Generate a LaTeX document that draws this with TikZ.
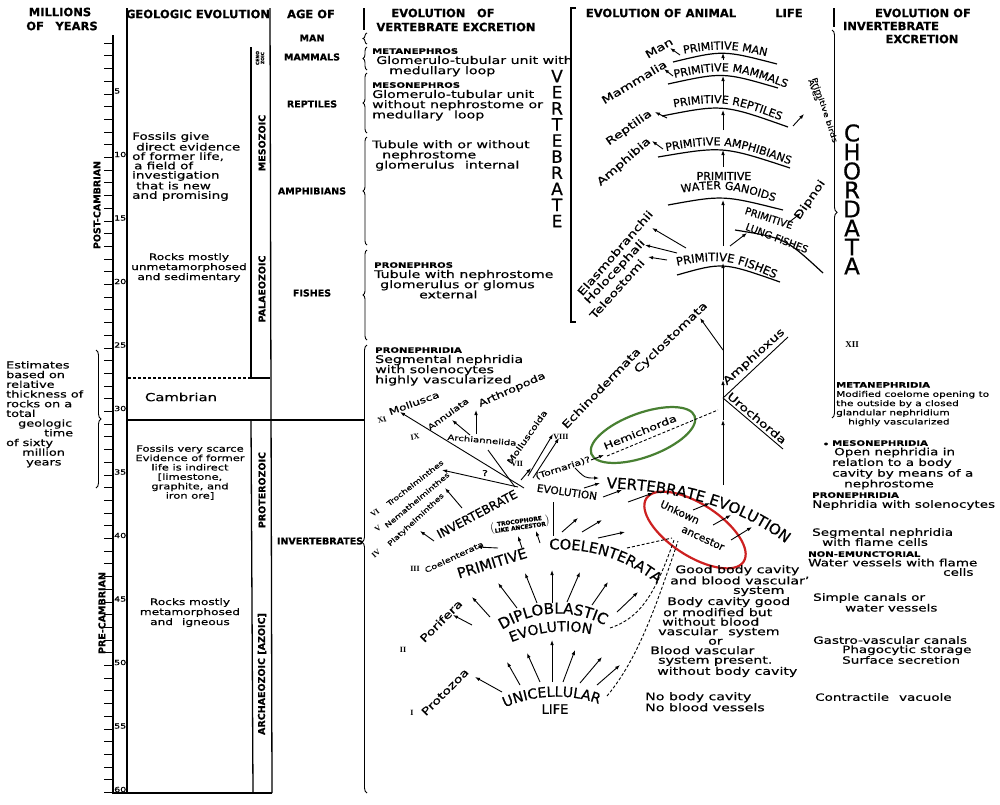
\documentclass[tikz,border=0pt]{standalone}
\usepackage{fontspec}
\setmainfont{DejaVu Sans}[FakeStretch=1.35, FakeBold=0.5]
\newfontfamily\capfont{DejaVu Sans}[FakeBold=0.6]
\newfontfamily\romfont{Liberation Serif}
\usepackage{tikz}
\usetikzlibrary{arrows.meta, decorations.pathreplacing, decorations.text}

\definecolor{hemigreen}{RGB}{72,128,50}
\definecolor{ancred}{RGB}{205,32,32}

\newcommand{\hd}[1]{{\fontsize{7.5}{7.5}\selectfont\bfseries #1}}
\newcommand{\arcfont}{\capfont\fontsize{11}{11}\selectfont}
\newcommand{\lowfont}{\capfont\fontsize{14.5}{14.5}\selectfont}
\newcommand{\bigfont}{\capfont\fontsize{15}{15}\selectfont}

\tikzset{
  rulel/.style={line width=1.3pt},
  lw/.style={line width=0.9pt},
  arcl/.style={line width=1.2pt},
  arr/.style={-{Latex[length=5pt,width=3.6pt]}, line width=0.9pt},
  dsh/.style={dash pattern=on 3pt off 2pt, line width=0.9pt},
  brc/.style={decorate, decoration={brace, amplitude=5pt}, line width=0.9pt},
  hdr/.style={font=\capfont\bfseries\fontsize{11.5}{12}\selectfont, inner sep=0},
  age/.style={font=\capfont\bfseries\fontsize{9.5}{10}\selectfont, inner sep=0},
  era/.style={font=\capfont\bfseries\fontsize{9.5}{10}\selectfont, inner sep=0, rotate=90},
  num/.style={font=\fontsize{7}{7}\selectfont, inner sep=0, anchor=west},
  blk/.style={align=left, inner sep=0, anchor=north west},
  ctr/.style={align=center, inner sep=0, anchor=north},
  stk/.style={font=\capfont\fontsize{17}{17}\selectfont, inner sep=0},
  tax/.style={font=\fontsize{7.5}{7.5}\selectfont, inner sep=0},
  taxb/.style={font=\fontsize{10.5}{10.5}\selectfont, inner sep=0},
  rom/.style={font=\romfont\bfseries\fontsize{8}{8}\selectfont, inner sep=0},
  caps/.style={font=\arcfont, inner sep=0},
  curvelbl/.style n args={2}{decorate, decoration={text along path, text align=center, text={|#1|#2}}},
}

\begin{document}
\begin{tikzpicture}[x=1pt, y=-1pt]
  \useasboundingbox (0,0) rectangle (1000,804);
  \fill[white] (0,0) rectangle (1000,804);

  % Headers
  \node[hdr] (hmil) at (60,12) {MILLIONS};
  \node[hdr] (hyrs) at (62,26) {OF\quad YEARS};
  \node[hdr] (hgeo) at (198,14) {GEOLOGIC EVOLUTION};
  \node[hdr] (hage) at (311,14) {AGE OF};
  \node[hdr] (hvx1) at (443,13) {EVOLUTION\quad OF};
  \node[hdr] (hvx2) at (456,27) {VERTEBRATE EXCRETION};
  \node[hdr] (hani) at (661,13) {EVOLUTION OF ANIMAL};
  \node[hdr] (hlife) at (789,13) {LIFE};
  \node[hdr] (hix1) at (923,13) {EVOLUTION OF};
  \node[hdr] (hix2) at (891,26) {INVERTEBRATE};
  \node[hdr] (hix3) at (922,39) {EXCRETION};

  % Time scale
  \draw[rulel] (113,35) -- (113,793) -- (272,793);
  \foreach \n in {1,...,60}
    \draw[lw] (104,{30.5+12.7*\n}) -- (113,{30.5+12.7*\n});
  \foreach \n in {5,10,...,60}
    \node[num] (yr\n) at (114,{27.5+12.7*\n}) {\n};
  \node[era] (post) at (97,205) {POST-CAMBRIAN};
  \node[era] (pre) at (102,613) {PRE-CAMBRIAN};
  \draw[brc] (96,350) -- (96,488);
  \node[blk, font=\fontsize{9.5}{9.7}\selectfont] (est) at (6,361)
    {Estimates\\based on\\relative\\thickness of\\rocks on a\\total\\\hspace*{12pt}geologic\\\hspace*{38pt}time\\of sixty\\\hspace*{16pt}million\\\hspace*{20pt}years};

  % Geologic evolution
  \draw[rulel] (127,8) -- (127,793);
  \draw[rulel] (270,8) -- (272,793);
  \draw[rulel] (251,47) -- (251,378);
  \draw[rulel] (251,420) -- (253,793);
  \draw[dsh, line width=1.2pt] (128,378) -- (251,378);
  \draw[rulel] (251,378) -- (270,378);
  \draw[rulel] (127,420) -- (364,420);
  \node[era, font=\capfont\bfseries\fontsize{4.5}{5}\selectfont, align=center] (ceno) at (260,58) {CENO\\ZOIC};
  \node[era] (meso) at (262,143) {MESOZOIC};
  \node[era] (palaeo) at (262,289) {PALAEOZOIC};
  \node[era] (protero) at (262,490) {PROTEROZOIC};
  \node[era] (archaeo) at (262,674) {ARCHAEOZOIC [AZOIC]};
  \node[blk, font=\fontsize{10}{9.4}\selectfont] (fos1) at (132,132)
    {Fossils give\\\hspace*{4pt}direct evidence\\of former life,\\\hspace*{2pt}a field of\\investigation\\\hspace*{4pt}that is new\\and promising};
  \node[ctr, font=\fontsize{9}{10}\selectfont] (rock1) at (189,253) {Rocks mostly\\unmetamorphosed\\and sedimentary};
  \node[inner sep=0, font=\fontsize{11}{11}\selectfont] (camb) at (181,397) {Cambrian};
  \node[ctr, font=\fontsize{8.5}{9.4}\selectfont] (fos2) at (190,445)
    {Fossils very scarce\\Evidence of former\\life is indirect\\{}[limestone,\\graphite, and\\iron ore]};
  \node[ctr, font=\fontsize{9}{10}\selectfont] (rock2) at (190,598) {Rocks mostly\\metamorphosed\\and\quad igneous};

  % Age of
  \draw[rulel] (364,8) -- (364,30);
  \foreach \y/\a/\b/\lbl in {38/33/44/MAN, 57/47/70/MAMMALS, 104/73/133/REPTILES, 191/137/245/AMPHIBIANS, 293/250/340/FISHES}{
    \node[age] (age\lbl) at (312,\y) {\lbl};
    \draw[brc, decoration={amplitude=4pt}] (367,\b) -- (367,\a);
  }
  \node[age] (ageinv) at (320,541) {INVERTEBRATES};
  \draw[brc, decoration={amplitude=5pt, aspect=0.56}] (367,793) -- (367,345);

  % Vertebrate excretion
  \node[blk, font=\fontsize{10.5}{10.2}\selectfont] (metan) at (372,48)
    {\hd{METANEPHROS}\\\hspace*{4pt}Glomerulo-tubular unit with\\\hspace*{17pt}medullary loop};
  \node[blk, font=\fontsize{10.5}{10.2}\selectfont] (meson) at (372,82)
    {\hd{MESONEPHROS}\\Glomerulo-tubular unit\\without nephrostome or\\medullary\quad loop};
  \node[blk, font=\fontsize{10.5}{10.2}\selectfont] (tubule) at (372,140)
    {Tubule with or without\\\hspace*{10pt}nephrostome\\\hspace*{3pt}glomerulus\quad internal};
  \node[blk, font=\fontsize{10.5}{10.2}\selectfont] (pronep) at (374,262)
    {\hd{PRONEPHROS}\\Tubule with nephrostome\\\hspace*{6pt}glomerulus or glomus\\\hspace*{45pt}external};
  \node[blk, font=\fontsize{10.5}{10.2}\selectfont] (pronph) at (375,347)
    {\hd{PRONEPHRIDIA}\\Segmental nephridia\\with solenocytes\\highly vascularized};
  \foreach \l [count=\i] in {V,E,R,T,E,B,R,A,T,E}
    \node[stk] (vl\i) at (557,{60+16.1*\i}) {\l};

  % Evolution of animal life
  \draw[rulel] (576,8) -- (571,8) -- (571,322) -- (576,322);
  \draw[arcl] (673,62) .. controls (723,50) .. (777,64);
  \draw[arcl] (668,84) .. controls (723,72) .. (778,88);
  \draw[arcl] (662,116) .. controls (723,104) .. (788,127);
  \draw[arcl] (658,157) .. controls (723,146) .. (790,168);
  \draw[arcl] (668,205) .. controls (723,195) .. (783,210);
  \draw[arcl] (735,230) .. controls (785,238) .. (823,273);
  \draw[arcl] (677,275) .. controls (723,262) .. (780,282);
  \path[curvelbl={\arcfont}{PRIMITIVE MAN}] (660,58) .. controls (725,46) .. (790,62);
  \path[curvelbl={\arcfont}{PRIMITIVE MAMMALS}] (655,82) .. controls (730,66) .. (805,95);
  \path[curvelbl={\arcfont}{PRIMITIVE REPTILES}] (648,112) .. controls (725,98) .. (805,130);
  \path[curvelbl={\arcfont}{PRIMITIVE AMPHIBIANS}] (645,155) .. controls (725,140) .. (810,172);
  \path[curvelbl={\arcfont}{WATER GANOIDS}] (655,197) .. controls (726,185) .. (800,210);
  \path[curvelbl={\capfont\fontsize{11.5}{11.5}\selectfont}{PRIMITIVE FISHES}] (648,272) .. controls (725,255) .. (802,291);
  \node[caps] (pwg) at (724,176) {PRIMITIVE};
  \node[caps, font=\capfont\fontsize{10}{10}\selectfont, rotate=-18] (plf) at (769,218) {PRIMITIVE};
  \node[caps, font=\capfont\fontsize{10}{10}\selectfont, rotate=-21] (lf) at (777,238) {LUNG FISHES};
  \node[font=\fontsize{7}{7}\selectfont, inner sep=0, rotate=-72] (aves) at (814,90) {Aves};
  \node[font=\fontsize{7}{7}\selectfont, inner sep=0, rotate=-72] (pbird) at (825,110) {Primitive birds};

  % trunk
  \foreach \ya/\yb in {60/53, 99/76, 130/110, 167/150, 246/200, 485/420, 420/380, 380/263}
    \draw[arr] (723,\ya) -- (723,\yb);
  \draw[arr] (723,350) -- (700,318);
  \draw[lw] (723,398) -- (788,337);
  \draw[lw] (723,398) -- (783,449);

  % side branches
  \foreach \xa/\ya/\xb/\yb in {680/55/670/48, 673/76/664/69, 667/118/655/112, 663/149/652/141,
    793/126/804/114, 788/223/801/213, 730/246/747/233,
    686/248/652/228, 677/253/645/245, 667/260/648/257}
    \draw[arr] (\xa,\ya) -- (\xb,\yb);

  \foreach \x/\y/\r/\lbl [count=\i] in {
    659/48/30/Man, 634/82/31/Mammalia, 629/128/35/Reptilia, 624/162/41/Amphibia,
    615/253/49/Elasmobranchii, 615/272/47/Holocephali, 617/289/48/Teleostomi,
    671/338/44/Cyclostomata, 601/388/46/Echinodermata,
    754/357/42/Amphioxus, 757/418/-40/Urochorda, 810/200/55/Dipnoi,
    441/621/45/Porifera, 445/692/45/Protozoa}{
    \node[taxb, rotate=\r] (big\i) at (\x,\y) {\lbl};
  }

  % Hemichorda and the unknown ancestor
  \draw[hemigreen, line width=2.2pt, rotate around={20:(643,435)}] (643,435) ellipse (55 and 22);
  \node[font=\fontsize{9.5}{9.5}\selectfont, inner sep=0, rotate=22] (hemi) at (640,432) {Hemichorda};
  \draw[dsh] (607,456) -- (718,410);
  \draw[ancred, line width=2.2pt, rotate around={-33:(695,530)}] (695,530) ellipse (58 and 26);
  \node[font=\capfont\fontsize{10.5}{10.5}\selectfont, inner sep=0, rotate=-25] (unk) at (680,512) {Unkown};
  \node[font=\capfont\fontsize{10.5}{10.5}\selectfont, inner sep=0, rotate=-25] (anc) at (703,538) {ancestor};
  \path[curvelbl={\bigfont}{VERTEBRATE EVOLUTION}] (596,488) .. controls (660,489) and (735,500) .. (794,550);

  % Invertebrate evolution
  \draw[arr] (524,488) -- (400,412);
  \draw[arr] (518,487) -- (442,470);
  \draw[lw] (515,487) -- (488,450);
  \draw[arr] (470,435) -- (452,420);
  \draw[arr] (476,434) -- (476,410);
  \draw[arr] (528,476) -- (553,434);
  \draw[arr] (533,478) -- (559,438);
  \draw[arr] (462,508) -- (445,488);
  \draw[arr] (434,541) -- (420,531);
  \draw[arr] (498,548) -- (477,547);
  \draw[arr] (522,548) -- (518,536);
  \draw[arr] (540,543) -- (536,531);
  \draw[arr] (521,480) -- (531,468);
  \draw[lw] (553,502) -- (553,536);
  \draw[arr] (591,460) -- (604,455);
  \draw[arr] (575,468) .. controls (585,478) .. (599,478);
  \draw[arr] (584,488) -- (600,483);

  \foreach \x/\y/\r/\s/\lbl [count=\i] in {
    414/403/20/9/Mollusca, 448/414/36/8/Annulata, 512/390/24/9.5/Arthropoda,
    482/440/-5/7.5/Archiannelida, 527/437/55/8/Molluscoida,
    415/483/38/6.8/Trochelminthes, 417/500/40/6.8/Nemathelminthes, 416/520/43/6.8/Platyhelminthes,
    454/557/25/7.3/Coelenterata}{
    \node[tax, font=\fontsize{\s}{\s}\selectfont, rotate=\r] (inv\i) at (\x,\y) {\lbl};
  }
  \foreach \x/\y/\r/\lbl [count=\i] in {382/420/20/XI, 415/437/10/IX, 517/464/0/VII, 561/437/0/VIII,
    375/513/38/VI, 378/529/40/V, 376/554/43/IV, 415/569/0/III, 403/650/0/II, 412/713/0/I}{
    \node[rom, rotate=\r] (rom\i) at (\x,\y) {\lbl};
  }
  \node[font=\fontsize{8}{8}\selectfont, inner sep=0] (qm) at (485,473) {?};
  \node[font=\fontsize{8}{8}\selectfont, inner sep=0, rotate=18] (torn) at (563,468) {(Tornaria)?};
  \node[font=\capfont\bfseries\fontsize{5.8}{6.3}\selectfont, inner sep=0, rotate=8] (troco) at (520,525)
    {$\left(\begin{tabular}{@{}c@{}}TROCOPHORE\\LIKE ANCESTOR\end{tabular}\right)$};
  \node[caps, font=\capfont\fontsize{12}{12}\selectfont, rotate=28] (invt) at (477,514) {INVERTEBRATE};
  \node[caps, font=\capfont\fontsize{10.5}{10.5}\selectfont, rotate=-8] (invev) at (567,492) {EVOLUTION};
  \node[caps, font=\capfont\fontsize{14.5}{14.5}\selectfont, rotate=17] (prim) at (492,563) {PRIMITIVE};
  \path[curvelbl={\lowfont}{COELENTERATA}] (543,550) .. controls (585,547) and (625,556) .. (662,588);

  % Coelenterata to vertebrate
  \foreach \xa/\ya/\xb/\yb in {562/532/578/518, 582/532/602/520, 598/538/625/532,
    628/502/653/493, 603/497/622/490, 693/510/710/503, 713/525/731/515, 731/540/752/527}
    \draw[arr] (\xa,\ya) -- (\xb,\yb);
  \draw[dsh] (627,548) -- (672,538);
  \draw[dsh] (610,628) .. controls (640,618) and (655,595) .. (674,540);
  \draw[dsh] (607,696) .. controls (637,660) and (655,610) .. (678,541);

  % Diploblastic and unicellular
  \path[curvelbl={\bigfont}{DIPLOBLASTIC}] (493,636) .. controls (530,608) and (578,606) .. (614,631);
  \path[curvelbl={\capfont\fontsize{14}{14}\selectfont}{EVOLUTION}] (505,645) .. controls (538,630) and (570,628) .. (598,636);
  \path[curvelbl={\capfont\fontsize{14}{14}\selectfont}{UNICELLULAR}] (500,710) .. controls (530,694) and (572,692) .. (604,706);
  \node[caps, font=\capfont\fontsize{13}{13}\selectfont] (life) at (555,709) {LIFE};
  \foreach \xa/\ya/\xb/\yb in {502/692/475/677, 520/685/507/662, 540/682/527/653, 552/682/552/640,
    563/682/575/650, 580/683/602/657, 597/685/620/665,
    472/625/453/615, 490/617/472/597, 517/608/498/583, 537/603/525/573,
    552/603/552/570, 567/602/580/572, 592/605/608/582, 617/612/638/592}
    \draw[arr] (\xa,\ya) -- (\xb,\yb);

  % Body cavity notes
  \node[blk, font=\fontsize{10.5}{9.5}\selectfont] (cav) at (650,565)
    {\hspace*{25pt}Good body cavity\\\hspace*{20pt}and blood vascular'\\\hspace*{83pt}system\\\hspace*{17pt}Body cavity good\\\hspace*{13pt}or modified but\\\hspace*{12pt}without blood\\\hspace*{8pt}vascular\quad system\\\hspace*{58pt}or\\Blood vascular\\\hspace*{8pt}system present.\\\hspace*{7pt}without body cavity};
  \node[blk, font=\fontsize{10.5}{11}\selectfont] (nocav) at (645,692) {No body cavity\\No blood vessels};

  % Invertebrate excretion
  \draw[rulel] (834,8) -- (834,27);
  \draw[brc, decoration={amplitude=5pt, aspect=0.47}] (832,30) -- (832,418);
  \foreach \l [count=\i] in {C,H,O,R,D,A,T,A}
    \node[stk, font=\capfont\fontsize{23}{23}\selectfont] (cl\i) at (852,{114+19*\i}) {\l};
  \node[rom, font=\romfont\bfseries\fontsize{9}{9}\selectfont] (xii) at (852,345) {XII};
  \node[blk, font=\fontsize{7.8}{9.2}\selectfont] (metnd) at (836,382)
    {\hd{METANEPHRIDIA}\\Modified coelome opening to\\the outside by a closed\\glandular nephridium\\\hspace*{12pt}highly vascularized};
  \node[font=\fontsize{9}{9}\selectfont, inner sep=0] (bul) at (826,445) {•};
  \node[blk, font=\fontsize{10}{9.5}\selectfont] (mesnd) at (832,440)
    {\hd{MESONEPHRIDIA}\\\hspace*{2pt}Open nephridia in\\relation to a body\\cavity by means of a\\\hspace*{12pt}nephrostome};
  \node[blk, font=\fontsize{10}{10}\selectfont] (prond) at (812,492) {\hd{PRONEPHRIDIA}\\Nephridia with solenocytes};
  \node[blk, font=\fontsize{10}{10}\selectfont] (segnd) at (812,528) {Segmental nephridia\\\hspace*{10pt}with flame cells};
  \node[blk, font=\fontsize{10}{9.5}\selectfont] (nonem) at (808,551) {\hd{NON-EMUNCTORIAL}\\Water vessels with flame\\\hspace*{135pt}cells};
  \node[blk, font=\fontsize{10}{9.5}\selectfont] (simp) at (813,593) {Simple canals or\\\hspace*{32pt}water vessels};
  \node[blk, font=\fontsize{10}{9.2}\selectfont] (gast) at (813,636) {Gastro-vascular canals\\\hspace*{29pt}Phagocytic storage\\\hspace*{29pt}Surface secretion};
  \node[blk, font=\fontsize{10}{10}\selectfont] (contr) at (815,693) {Contractile\quad vacuole};

\end{tikzpicture}
\end{document}
